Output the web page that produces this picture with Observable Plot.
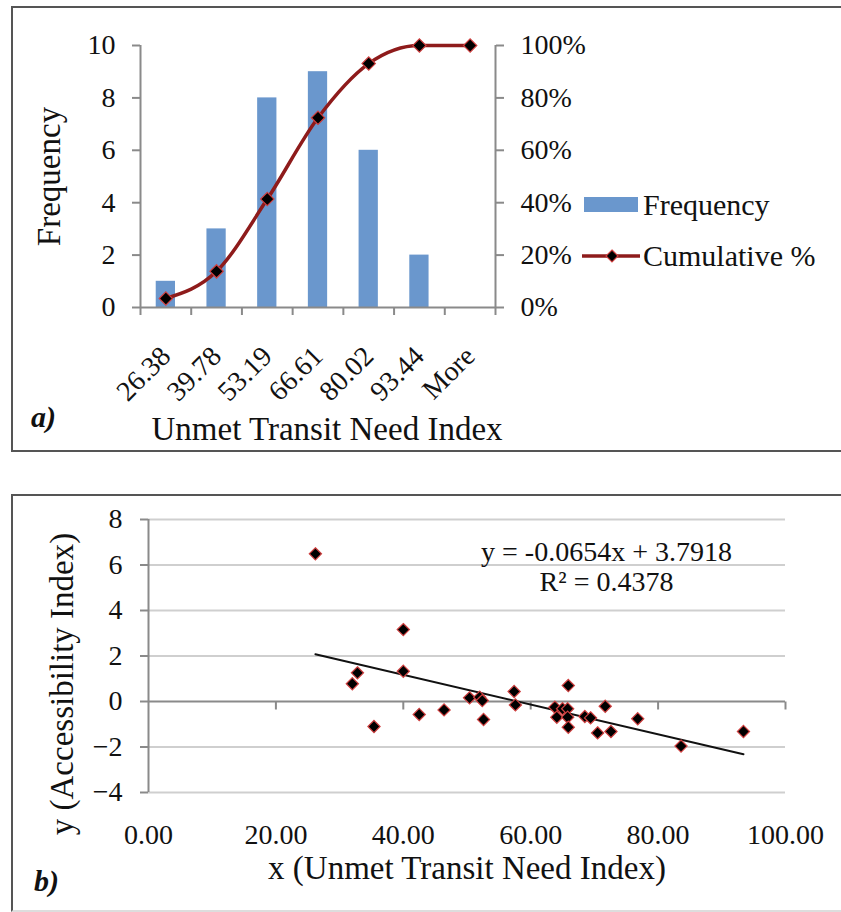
<!DOCTYPE html>
<html><head><meta charset="utf-8">
<script src="https://cdn.jsdelivr.net/npm/d3@7"></script>
<script src="https://cdn.jsdelivr.net/npm/@observablehq/plot@0.6"></script>
<style>
body{margin:0;background:#fff;}
#wrap{position:relative;width:841px;height:912px;overflow:hidden;font-family:"Liberation Serif","Times New Roman",serif;color:#111;}
.box{position:absolute;border:2px solid #555;box-sizing:border-box;}
#top,#bot{position:absolute;left:0;}
#top{top:0;}
#bot{top:460px;}
.lbl{position:absolute;font-weight:bold;font-style:italic;font-size:30px;line-height:30px;}
.leg{position:absolute;font-size:30px;line-height:30px;white-space:nowrap;}
</style></head><body>
<div id="wrap">
  <div class="box" style="left:11px;top:6px;width:860px;height:446px"></div>
  <div class="box" style="left:11px;top:494px;width:860px;height:418px;border-bottom-color:#ddd"></div>
  <div id="top"></div>
  <div id="bot"></div>
  <div class="lbl" style="left:31px;top:402px">a)</div>
  <div class="lbl" style="left:34px;top:866px">b)</div>
  <div style="position:absolute;left:584px;top:197px;width:54px;height:15px;background:#6a97cd"></div>
  <div class="leg" style="left:643px;top:190px">Frequency</div>
  <svg style="position:absolute;left:578px;top:245px" width="66" height="22">
    <line x1="4" y1="11" x2="62" y2="11" stroke="#8e1b1b" stroke-width="3.5"/>
    <path d="M34,5 L40,11 L34,17 L28,11 Z" fill="#000" stroke="#d04040" stroke-width="1.2"/>
  </svg>
  <div class="leg" style="left:643px;top:241px">Cumulative %</div>
</div>
<script>
// ---- data: panel a) histogram ----
const bins = ["26.38","39.78","53.19","66.61","80.02","93.44","More"];
const frequency = [1,3,8,9,6,2,0];
const cumulativePct = [3.45,13.79,41.38,72.41,93.10,100,100];
const freqTicks = [0,2,4,6,8,10];

// ---- data: panel b) scatter ----
const unmetNeed = [26.2,32.0,32.8,35.4,40.0,40.0,42.5,46.4,50.4,52.0,52.4,52.6,57.4,57.6,63.8,64.1,65.0,65.9,65.8,65.8,65.9,68.5,69.4,70.5,71.7,72.6,76.8,83.6,93.4];
const accessibility = [6.49,0.78,1.26,-1.10,3.16,1.33,-0.57,-0.37,0.16,0.19,0.04,-0.79,0.44,-0.15,-0.25,-0.69,-0.32,0.70,-0.32,-0.69,-1.13,-0.66,-0.72,-1.38,-0.21,-1.32,-0.76,-1.96,-1.32];
const slope = -0.0654, intercept = 3.7918;
const eqText = "y = -0.0654x + 3.7918";
const r2Text = "R\u00B2 = 0.4378";
const xTicksB = [0,20,40,60,80,100];
const yTicksB = [-4,-2,0,2,4,6,8];

const font = "Liberation Serif, Times New Roman, serif";
const axisGray = "#8a8a8a";

// ---------- Panel a ----------
const topData = bins.map((b,i)=>({bin:b,i,freq:frequency[i],cum:cumulativePct[i]}));
const topPlot = Plot.plot({
  width:841, height:460,
  marginLeft:140, marginRight:346, marginTop:45, marginBottom:153,
  style:{fontFamily:font, fontSize:"28px", color:"#111", background:"transparent", overflow:"visible"},
  x:{domain:[0,7], axis:null},
  y:{domain:[0,10], axis:null},
  marks:[
    Plot.rectY(topData,{x1:d=>d.i+0.31, x2:d=>d.i+0.69, y:"freq", fill:"#6a97cd"}),
    Plot.ruleX([0,7],{stroke:axisGray, strokeWidth:2}),
    Plot.ruleY([0],{stroke:axisGray, strokeWidth:2}),
    Plot.axisY({anchor:"left", ticks:freqTicks, tickSize:8, tickPadding:17, stroke:axisGray, strokeWidth:2, fill:"#111", fontSize:28, label:null}),
    Plot.axisY({anchor:"right", ticks:freqTicks, tickFormat:d=>(d*10)+"%", tickSize:8, tickPadding:17, stroke:axisGray, strokeWidth:2, fill:"#111", fontSize:28, label:null}),
    Plot.axisX({ticks:d3.range(8), tickFormat:()=>"", tickSize:8, stroke:axisGray, strokeWidth:2, label:null}),
    Plot.axisX({ticks:d3.range(7).map(i=>i+0.5), tickFormat:v=>bins[Math.floor(v)], tickSize:0, tickPadding:44, tickRotate:-45, fill:"#111", fontSize:28, label:null}),
    Plot.line(topData,{x:d=>d.i+0.5, y:d=>d.cum/10, stroke:"#8e1b1b", strokeWidth:3.5, curve:"monotone-x"}),
    Plot.dot(topData,{x:d=>d.i+0.5, y:d=>d.cum/10, symbol:"diamond2", r:6, fill:"#000", stroke:"#d04040", strokeWidth:1.2}),
    Plot.text(["Frequency"],{text:d=>d, frameAnchor:"left", dx:-91, rotate:-90, textAnchor:"middle", lineAnchor:"middle", fontSize:33, fill:"#111"}),
    Plot.text(["Unmet Transit Need Index"],{text:d=>d, frameAnchor:"bottom", dx:9, dy:122, textAnchor:"middle", lineAnchor:"middle", fontSize:33, fill:"#111"})
  ]
});
document.getElementById("top").appendChild(topPlot);

// ---------- Panel b ----------
const pts = unmetNeed.map((x,i)=>({x, y:accessibility[i]}));
const fit = d3.extent(unmetNeed).map(x=>({x, y:slope*x+intercept}));
const tickSym = {draw(ctx){ ctx.moveTo(0,0); ctx.lineTo(0,8); }};
const botPlot = Plot.plot({
  width:841, height:452,
  marginLeft:148, marginRight:56, marginTop:59, marginBottom:120,
  style:{fontFamily:font, fontSize:"27px", color:"#111", background:"transparent", overflow:"visible"},
  x:{domain:[0,100], axis:null},
  y:{domain:[-4,8], axis:null},
  marks:[
    Plot.ruleY(yTicksB.filter(v=>v!==0),{stroke:"#cfcfcf", strokeWidth:2}),
    Plot.ruleY([0],{stroke:axisGray, strokeWidth:2}),
    Plot.ruleX([0],{stroke:axisGray, strokeWidth:2}),
    Plot.dot(xTicksB.filter(v=>v>0),{x:d=>d, y:()=>0, symbol:tickSym, fill:"none", stroke:axisGray, strokeWidth:2}),
    Plot.axisY({anchor:"left", ticks:yTicksB, tickSize:8, tickPadding:18, stroke:axisGray, strokeWidth:2, fill:"#111", fontSize:28, label:null}),
    Plot.axisX({anchor:"bottom", ticks:xTicksB, tickFormat:d3.format(".2f"), tickSize:0, tickPadding:32, fill:"#111", fontSize:28, label:null}),
    Plot.line(fit,{x:"x", y:"y", stroke:"#111", strokeWidth:2}),
    Plot.dot(pts,{x:"x", y:"y", symbol:"diamond2", r:5.5, fill:"#000", stroke:"#d04040", strokeWidth:1.2}),
    Plot.text([eqText],{text:d=>d, frameAnchor:"top-left", dx:458, dy:33, textAnchor:"middle", lineAnchor:"middle", fontSize:28, fill:"#111"}),
    Plot.text([r2Text],{text:d=>d, frameAnchor:"top-left", dx:458, dy:63, textAnchor:"middle", lineAnchor:"middle", fontSize:28, fill:"#111"}),
    Plot.text(["y (Accessibility Index)"],{text:d=>d, frameAnchor:"left", dx:-86, dy:28, rotate:-90, textAnchor:"middle", lineAnchor:"middle", fontSize:33, fill:"#111"}),
    Plot.text(["x (Unmet Transit Need Index)"],{text:d=>d, frameAnchor:"bottom", dx:0, dy:76, textAnchor:"middle", lineAnchor:"middle", fontSize:33, fill:"#111"})
  ]
});
document.getElementById("bot").appendChild(botPlot);
</script>
</body></html>
